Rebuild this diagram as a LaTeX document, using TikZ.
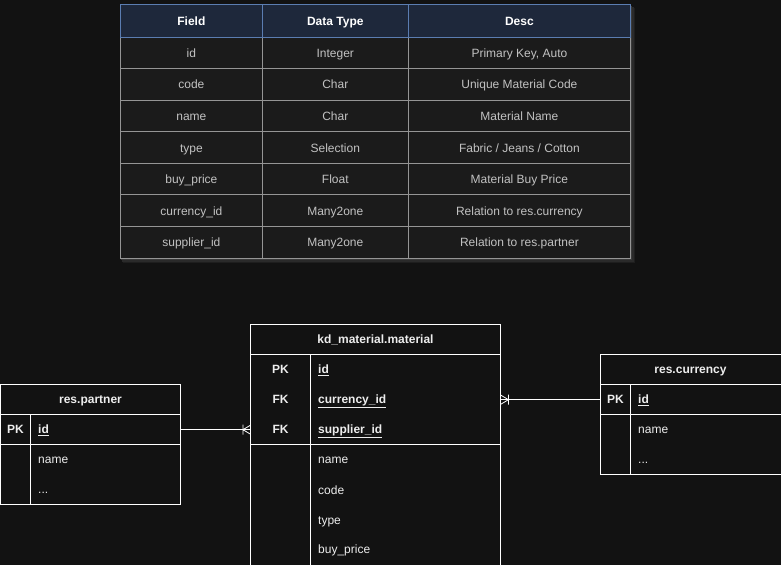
\documentclass[tikz,border=0pt]{standalone}
\usepackage{fontspec}
\setmainfont{Liberation Sans}
\usetikzlibrary{calc}

\definecolor{pagebg}{HTML}{121212}
\definecolor{tablebg}{HTML}{1B1B1B}
\definecolor{headbg}{HTML}{1E283B}
\definecolor{headline}{HTML}{5B7DB1}
\definecolor{gridline}{HTML}{959595}
\definecolor{celltext}{HTML}{C2C2C2}
\definecolor{ertext}{HTML}{EDEDED}
\definecolor{shadowA}{HTML}{3A3A3A}
\definecolor{shadowB}{HTML}{2A2A2A}
\definecolor{shadowC}{HTML}{1E1E1E}

\tikzset{
  fixedbox/.style={text height=11pt, text depth=1.8pt, inner sep=0pt},
  basefont/.style={fixedbox, font=\fontsize{12}{14}\selectfont},
  headtext/.style={fixedbox, text=white, font=\fontsize{12}{14}\selectfont\bfseries},
  celltxt/.style={basefont, text=celltext},
  grid/.style={draw=gridline, line width=0.8pt},
  erline/.style={draw=white, line width=1pt},
  ertitle/.style={fixedbox, text=ertext, font=\fontsize{12}{14}\selectfont\bfseries},
  erkey/.style={fixedbox, text=ertext, font=\fontsize{12}{14}\selectfont\bfseries},
  erfield/.style={fixedbox, text=ertext, font=\fontsize{12}{14}\selectfont, anchor=west},
  erbold/.style={erfield, font=\fontsize{12}{14}\selectfont\bfseries},
  rowslot/.style={rectangle, inner sep=0pt, minimum height=30pt, anchor=north west},
}

\begin{document}
\begin{tikzpicture}[x=1pt, y=-1pt]
  \fill[pagebg] (0,0) rectangle (781,565);
  \useasboundingbox (0,0) rectangle (781,565);
  \clip (0,0) rectangle (781,565);

  % ---------- field table ----------
  \fill[shadowC] (123,7.5) rectangle (635,263);
  \fill[shadowB] (122,6.5) rectangle (633.5,261.5);
  \fill[shadowA] (121,5.5) rectangle (632,260);
  \fill[tablebg] (120.5,37) rectangle (630.5,258);
  \fill[headbg] (120.5,4.5) rectangle (630.5,37);

  % body grid
  \draw[grid] (120.5,37) rectangle (630.5,258);
  \foreach \yy in {68.57,100.14,131.71,163.29,194.86,226.43}
    \draw[grid] (120.5,\yy) -- (630.5,\yy);
  \draw[grid] (262.3,37) -- (262.3,258);
  \draw[grid] (408.3,37) -- (408.3,258);

  % header grid
  \draw[draw=headline, line width=0.8pt] (120.5,4.5) rectangle (630.5,37);
  \draw[draw=headline, line width=0.8pt] (262.3,4.5) -- (262.3,37);
  \draw[draw=headline, line width=0.8pt] (408.3,4.5) -- (408.3,37);

  \node[headtext] (h1) at (191.4,21) {Field};
  \node[headtext] (h2) at (335.3,21) {Data Type};
  \node[headtext] (h3) at (519.4,21) {Desc};

  \foreach \i/\f/\t/\d in {
      0/id/Integer/{Primary Key, Auto},
      1/code/Char/{Unique Material Code},
      2/name/Char/{Material Name},
      3/type/Selection/{Fabric / Jeans / Cotton},
      4/buy\_price/Float/{Material Buy Price},
      5/currency\_id/Many2one/{Relation to res.currency},
      6/supplier\_id/Many2one/{Relation to res.partner}} {
    \pgfmathsetmacro{\yc}{37+31.57*\i+15.8}
    \node[celltxt] (f\i) at (191.4,\yc) {\f};
    \node[celltxt] (t\i) at (335.3,\yc) {\t};
    \node[celltxt] (d\i) at (519.4,\yc) {\d};
  }

  % ---------- entity: kd_material.material ----------
  \draw[erline] (250.5,580) -- (250.5,324.5) -- (500.5,324.5) -- (500.5,580);
  \draw[erline] (250.5,354.5) -- (500.5,354.5);
  \draw[erline] (250.5,444.5) -- (500.5,444.5);
  \draw[erline] (310.5,354.5) -- (310.5,580);
  \node[ertitle] (mat) at (375.5,339) {kd\_material.material};

  \node[rowslot, minimum width=250pt] (m-id)  at (250.5,354.5) {};
  \node[rowslot, minimum width=250pt] (m-cur) at (250.5,384.5) {};
  \node[rowslot, minimum width=250pt] (m-sup) at (250.5,414.5) {};

  \node[erkey] (mk1) at (280.5,369) {PK};
  \node[erkey] (mk2) at (280.5,399) {FK};
  \node[erkey] (mk3) at (280.5,429) {FK};
  \node[erbold] (mf1) at (318,369) {\underline{id}};
  \node[erbold] (mf2) at (318,399) {\underline{currency\_id}};
  \node[erbold] (mf3) at (318,429) {\underline{supplier\_id}};
  \node[erfield] (mf4) at (318,459) {name};
  \node[erfield] (mf5) at (318,489.5) {code};
  \node[erfield] (mf6) at (318,519.5) {type};
  \node[erfield] (mf7) at (318,548.5) {buy\_price};

  % ---------- entity: res.partner ----------
  \draw[erline] (0.5,384.5) rectangle (180.5,504.5);
  \draw[erline] (0.5,414.5) -- (180.5,414.5);
  \draw[erline] (0.5,444.5) -- (180.5,444.5);
  \draw[erline] (30.5,414.5) -- (30.5,504.5);
  \node[ertitle] (par) at (90.5,399) {res.partner};
  \node[rowslot, minimum width=180pt] (p-id) at (0.5,414.5) {};
  \node[erkey] (pk1) at (15.5,429) {PK};
  \node[erbold] (pf1) at (38,429) {\underline{id}};
  \node[erfield] (pf2) at (38,459) {name};
  \node[erfield] (pf3) at (38,489) {...};

  % ---------- entity: res.currency ----------
  \draw[erline] (790,354.5) -- (600.5,354.5) -- (600.5,474.5) -- (790,474.5);
  \draw[erline] (600.5,384.5) -- (790,384.5);
  \draw[erline] (600.5,414.5) -- (790,414.5);
  \draw[erline] (630.5,384.5) -- (630.5,474.5);
  \node[ertitle] (cur) at (690.5,369) {res.currency};
  \node[rowslot, minimum width=181pt] (c-id) at (600.5,384.5) {};
  \node[erkey] (ck1) at (615.5,399) {PK};
  \node[erbold] (cf1) at (638,399) {\underline{id}};
  \node[erfield] (cf2) at (638,429) {name};
  \node[erfield] (cf3) at (638,459) {...};

  % ---------- relations (one-or-many at the material side) ----------
  \draw[white, line width=0.8pt] (p-id.east) -- (m-sup.west);
  \draw[white, line width=0.8pt]
    ($(m-sup.west)+(-7.5,-5)$) -- ($(m-sup.west)+(-7.5,5)$)
    ($(m-sup.west)+(0,-4.5)$) -- ($(m-sup.west)+(-7.5,0)$) -- ($(m-sup.west)+(0,4.5)$);

  \draw[white, line width=0.8pt] (m-cur.east) -- (c-id.west);
  \draw[white, line width=0.8pt]
    ($(m-cur.east)+(7.5,-5)$) -- ($(m-cur.east)+(7.5,5)$)
    ($(m-cur.east)+(0,-4.5)$) -- ($(m-cur.east)+(7.5,0)$) -- ($(m-cur.east)+(0,4.5)$);
\end{tikzpicture}
\end{document}
